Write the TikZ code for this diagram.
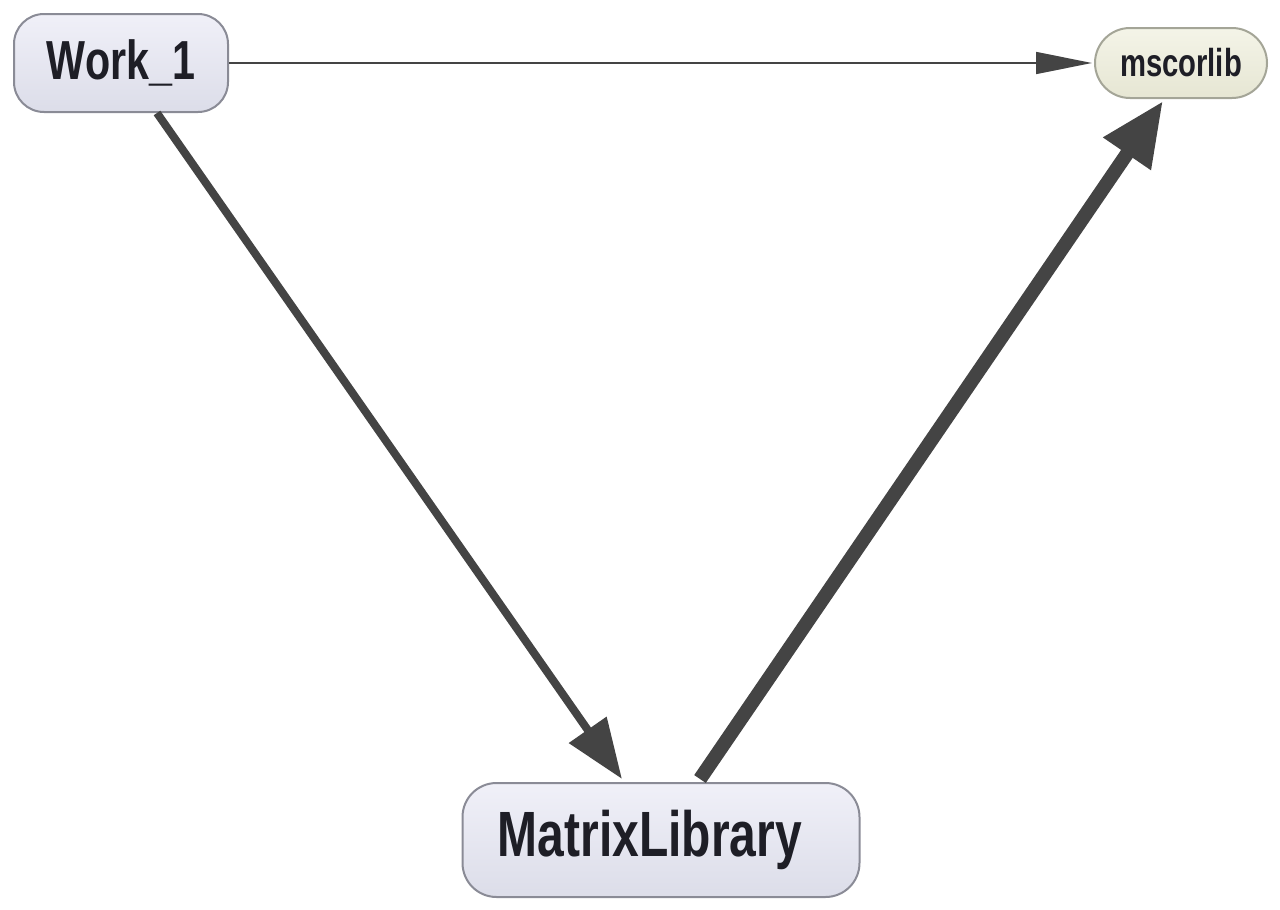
\documentclass[tikz,border=0pt]{standalone}
\usepackage{fontspec}
\setmainfont{Liberation Sans}[FakeStretch=0.75]
\usepackage{tikz}
\usetikzlibrary{arrows.meta}

\definecolor{edgegray}{HTML}{444444}
\definecolor{asmtop}{HTML}{F0F0F8}
\definecolor{asmbot}{HTML}{DCDDE9}
\definecolor{asmline}{HTML}{8A8B96}
\definecolor{systop}{HTML}{F4F4E8}
\definecolor{sysbot}{HTML}{E6E6D3}
\definecolor{sysline}{HTML}{A4A597}
\definecolor{labelink}{HTML}{1E1E26}

\begin{document}
\begin{tikzpicture}[x=0.5pt,y=-0.5pt,
                    asm/.style={rectangle,rounded corners=15pt,draw=asmline,line width=1pt,
                                top color=asmtop,bottom color=asmbot,text=labelink,
                                font=\bfseries,inner sep=0pt},
                    sys/.style={asm,draw=sysline,top color=systop,bottom color=sysbot,
                                rounded corners=17.5pt},
                    dep/.style={draw=edgegray,-{Triangle[length=30pt,width=22pt]},line width=4pt}]
  \useasboundingbox (0,0) rectangle (1280,910);

  \node[asm,minimum width=107pt,minimum height=49pt,font=\bfseries\fontsize{27.5}{30}\selectfont]
        (W)  at (121,63)  {Work\_1};
  \node[sys,minimum width=86pt,minimum height=35pt,font=\bfseries\fontsize{19.5}{22}\selectfont]
        (MS) at (1181,63) {mscorlib};
  \node[asm,minimum width=198.5pt,minimum height=57pt,rounded corners=17pt,
        font=\bfseries\fontsize{32}{34}\selectfont]
        (ML) at (661,840) {\hspace*{-11pt}MatrixLibrary};

  \path (W.east) edge[dep,line width=0.75pt,-{Triangle[length=28pt,width=11pt]}]
                                          ([xshift=-1pt]MS.west)
        ([xshift=18pt]W.south) edge[dep]  ([xshift=-19.5pt,yshift=1.5pt]ML.north)
        ([xshift=19.5pt,yshift=1.5pt]ML.north) edge[dep,line width=7pt,
                                -{Triangle[length=32pt,width=27pt]}]
                                          ([xshift=-9pt,yshift=-1pt]MS.south);
\end{tikzpicture}
\end{document}
